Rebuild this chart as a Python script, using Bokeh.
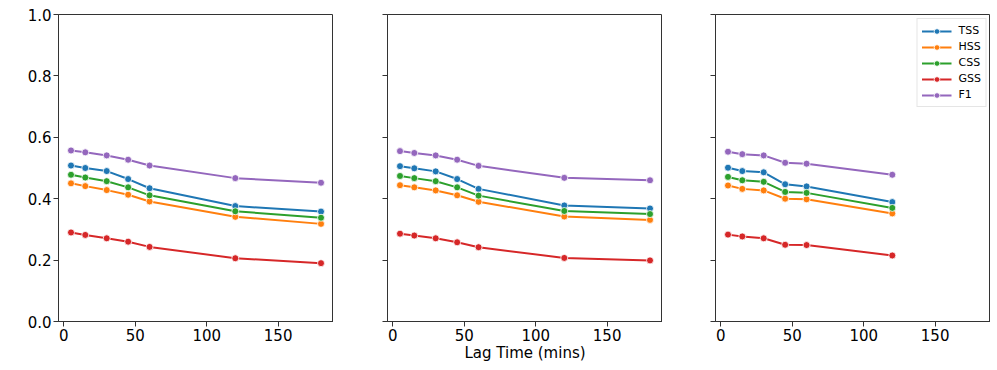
from bokeh.plotting import figure
from bokeh.layouts import row
from bokeh.models import Range1d, FixedTicker, CustomJSTickFormatter
from bokeh.embed import file_html
from bokeh.resources import INLINE

# ---- data ----
lag_a = [5, 15, 30, 45, 60, 120, 180]
lag_b = [5, 15, 30, 45, 60, 120, 180]
lag_c = [5, 15, 30, 45, 60, 120]

metrics = ["TSS", "HSS", "CSS", "GSS", "F1"]
colors = ["#1f77b4", "#ff7f0e", "#2ca02c", "#d62728", "#9467bd"]

a_tss = [0.508, 0.500, 0.490, 0.464, 0.434, 0.376, 0.358]
a_hss = [0.450, 0.441, 0.428, 0.413, 0.391, 0.341, 0.318]
a_css = [0.478, 0.469, 0.457, 0.437, 0.411, 0.359, 0.338]
a_gss = [0.290, 0.282, 0.271, 0.260, 0.243, 0.206, 0.190]
a_f1 = [0.557, 0.551, 0.541, 0.527, 0.508, 0.467, 0.452]

b_tss = [0.506, 0.499, 0.489, 0.464, 0.432, 0.378, 0.368]
b_hss = [0.444, 0.437, 0.427, 0.411, 0.390, 0.342, 0.331]
b_css = [0.474, 0.467, 0.457, 0.437, 0.410, 0.360, 0.350]
b_gss = [0.286, 0.280, 0.271, 0.258, 0.242, 0.207, 0.199]
b_f1 = [0.555, 0.549, 0.541, 0.527, 0.507, 0.468, 0.460]

c_tss = [0.501, 0.490, 0.486, 0.447, 0.440, 0.389]
c_hss = [0.443, 0.432, 0.427, 0.400, 0.398, 0.352]
c_css = [0.471, 0.460, 0.455, 0.422, 0.419, 0.370]
c_gss = [0.283, 0.277, 0.271, 0.250, 0.249, 0.215]
c_f1 = [0.553, 0.545, 0.541, 0.517, 0.514, 0.478]

x_ticks = [0, 50, 100, 150]
y_ticks = [0.0, 0.2, 0.4, 0.6, 0.8, 1.0]
x_label = "Lag Time (mins)"

panels = [
    (lag_a, [a_tss, a_hss, a_css, a_gss, a_f1]),
    (lag_b, [b_tss, b_hss, b_css, b_gss, b_f1]),
    (lag_c, [c_tss, c_hss, c_css, c_gss, c_f1]),
]

FONT = "DejaVu Sans"
AX = "#333333"
x_range = Range1d(-3.75, 188.75)
y_range = Range1d(0, 1.0)

borders_left = [58, 54, 53]
figs = []
for i, (lags, series) in enumerate(panels):
    p = figure(
        frame_width=275, frame_height=307,
        min_border_left=borders_left[i], min_border_right=0,
        min_border_top=14, min_border_bottom=46,
        x_range=x_range, y_range=y_range,
        output_backend="svg", toolbar_location=None,
        background_fill_color="white", border_fill_color="white",
    )
    p.grid.visible = False
    p.outline_line_color = AX
    p.outline_line_width = 1
    for ax in (p.xaxis[0], p.yaxis[0]):
        ax.axis_line_color = AX
        ax.major_tick_line_color = AX
        ax.major_tick_in = 0
        ax.major_tick_out = 5
        ax.minor_tick_line_color = None
        ax.major_label_text_font = FONT
        ax.major_label_text_font_size = "15px"
        ax.major_label_text_color = "black"
        ax.major_label_standoff = 2
    p.xaxis.ticker = FixedTicker(ticks=x_ticks)
    p.yaxis.ticker = FixedTicker(ticks=y_ticks)
    if i > 0:
        p.yaxis.formatter = CustomJSTickFormatter(code="return ''")
    else:
        p.yaxis.formatter = CustomJSTickFormatter(code="return tick.toFixed(1)")
    if i == 1:
        p.xaxis.axis_label = x_label
        p.xaxis.axis_label_text_font = FONT
        p.xaxis.axis_label_text_font_size = "15px"
        p.xaxis.axis_label_text_font_style = "normal"
        p.xaxis.axis_label_text_color = "black"
        p.xaxis.axis_label_standoff = 0
    for name, col, vals in zip(metrics, colors, series):
        kw = {"legend_label": name} if i == 2 else {}
        p.line(lags, vals, line_color=col, line_width=2, **kw)
        p.scatter(lags, vals, size=7, fill_color=col, line_color="white",
                  line_width=0.8, **kw)
    if i == 2:
        lg = p.legend[0]
        lg.location = "top_right"
        lg.label_text_font = FONT
        lg.label_text_font_size = "11px"
        lg.label_text_color = "black"
        lg.glyph_width = 30
        lg.glyph_height = 14
        lg.label_height = 15
        lg.spacing = 1
        lg.padding = 4
        lg.margin = 4
        lg.label_standoff = 7
        lg.border_line_color = "#cccccc"
        lg.border_line_width = 1
        lg.background_fill_alpha = 0.8
    figs.append(p)

layout = row(*figs, spacing=0)
open("out.html", "w").write(file_html(layout, INLINE))
